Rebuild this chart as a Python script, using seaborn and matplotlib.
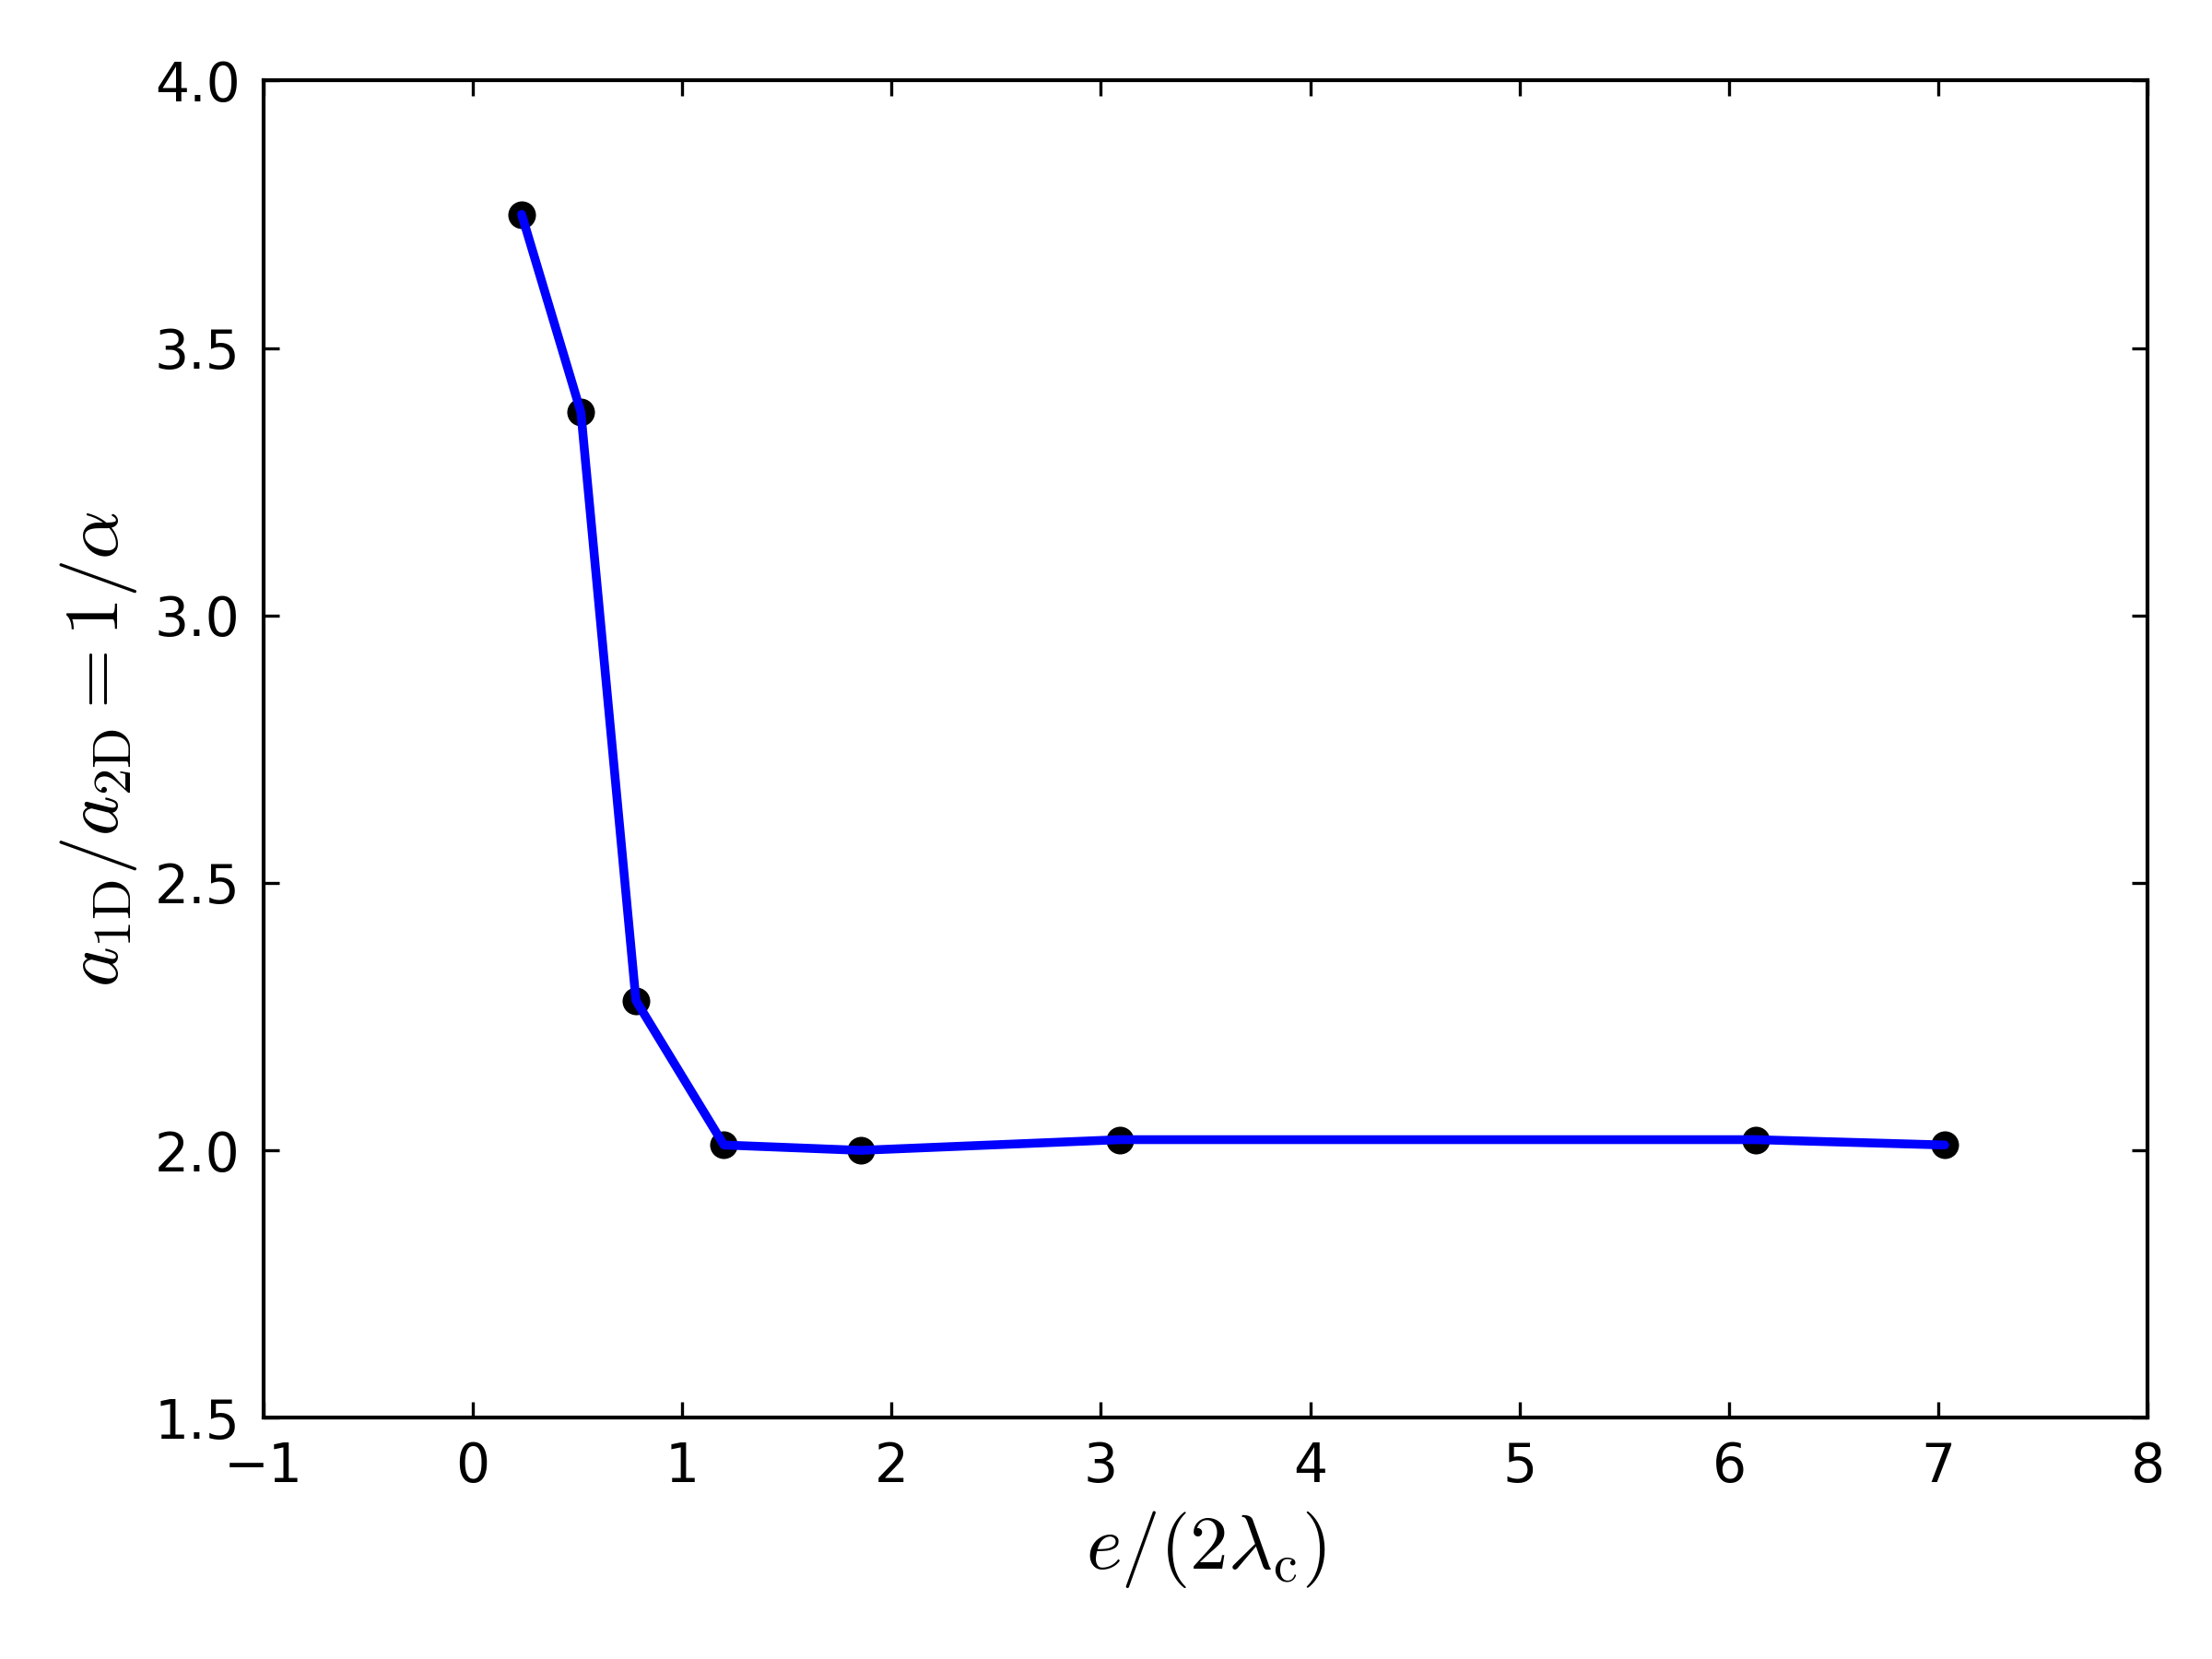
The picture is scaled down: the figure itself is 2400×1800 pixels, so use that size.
import seaborn as sns
import pandas as pd
import matplotlib.pyplot as plt

# data
x_vals = [0.234, 0.517, 0.78, 1.2, 1.852, 3.092, 6.126, 7.03]
y_vals = [3.75, 3.38, 2.28, 2.01, 2.00, 2.02, 2.02, 2.01]
x_ticks = [-1, 0, 1, 2, 3, 4, 5, 6, 7, 8]
y_ticks = [1.5, 2.0, 2.5, 3.0, 3.5, 4.0]

df = pd.DataFrame({"x": x_vals, "y": y_vals})

sns.set_style("white")
plt.rcParams["font.family"] = ["DejaVu Sans"]
plt.rcParams["mathtext.fontset"] = "cm"
plt.rcParams["text.color"] = "black"
plt.rcParams["axes.labelcolor"] = "black"
plt.rcParams["xtick.color"] = "black"
plt.rcParams["ytick.color"] = "black"
plt.rcParams["xtick.direction"] = "in"
plt.rcParams["ytick.direction"] = "in"

fig = plt.figure(figsize=(8, 6), dpi=300)
ax = fig.add_axes([0.119, 0.1454, 0.852, 0.806])

# dots first, line on top
sns.scatterplot(data=df, x="x", y="y", ax=ax, color="black", s=45,
                edgecolor="black", linewidth=0.5, zorder=2)
sns.lineplot(data=df, x="x", y="y", ax=ax, color="blue", linewidth=2.3,
             sort=False, zorder=3)

ax.set_xlim(-1, 8)
ax.set_ylim(1.5, 4.0)
ax.set_xticks(x_ticks)
ax.set_yticks(y_ticks)
ax.set_yticklabels([f"{t:.1f}" for t in y_ticks])
ax.tick_params(axis="both", which="both", length=4, width=0.8,
               labelsize=14, colors="black", pad=6,
               top=True, right=True, bottom=True, left=True)
for sp in ax.spines.values():
    sp.set_visible(True)
    sp.set_color("black")
    sp.set_linewidth(1)

ax.set_xlabel(r"$e/(2\lambda_{\rm c})$", fontsize=20, color="black")
ax.set_ylabel(r"$a_{\rm 1D}/a_{\rm 2D}=1/\alpha$", fontsize=20, color="black")

fig.savefig("out.png", dpi=300)
